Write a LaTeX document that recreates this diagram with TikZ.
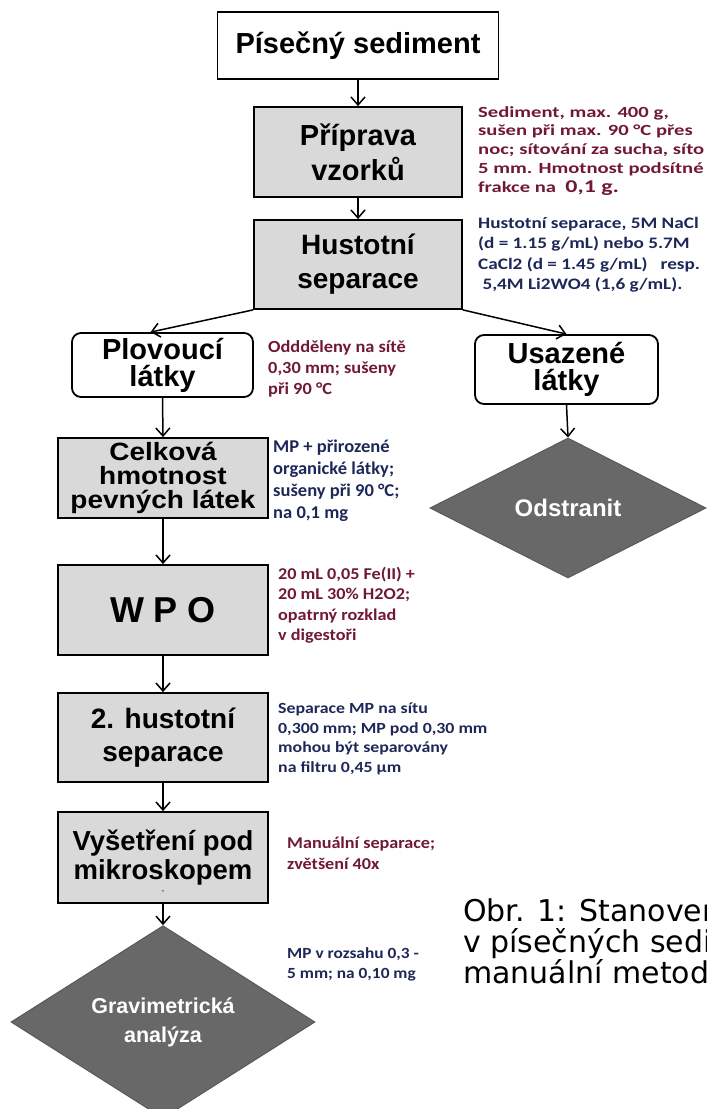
\documentclass[tikz,border=0pt]{standalone}
\usepackage{fontspec}
\setmainfont{Liberation Sans}
\newfontfamily\notefont{Carlito}
\newfontfamily\capfont{DejaVu Sans}
\usepackage{tikz}
\usetikzlibrary{arrows.meta, positioning, shapes.geometric}
\definecolor{vinova}{RGB}{112,24,52}
\definecolor{tmavomodra}{RGB}{30,40,88}
\definecolor{svetlesede}{RGB}{217,217,217}
\definecolor{tmavesede}{RGB}{104,104,104}
\newcommand{\hlavni}[2]{\bfseries\fontsize{#1}{#2}\selectfont}
\newcommand{\pozn}[3]{\notefont\addfontfeatures{FakeStretch=#1}\bfseries\fontsize{#2}{#3}\selectfont}

\begin{document}
\begin{tikzpicture}[x=1pt, y=-1pt,
    krabice/.style={draw, line width=1.8pt, fill=svetlesede, inner sep=0pt, align=center},
    oval/.style={draw, line width=1.8pt, fill=white, rounded corners=9pt, inner sep=0pt, align=center},
    kosoctverec/.style={diamond, draw=black!65, line width=1pt, fill=tmavesede, inner sep=0pt, align=center, text=white},
    sipka/.style={line width=1.5pt, -{Straight Barb[length=8pt,width=14pt]}},
    poznamka/.style={anchor=north west, inner sep=0pt, align=left}]

    \useasboundingbox (0,0) rectangle (707,1109);
    \clip (0,0) rectangle (707,1109);

    % horni cast
    \node[krabice, fill=white, minimum width=281pt, minimum height=67pt, font=\hlavni{29}{35}] (sed) at (358,45.5) {Písečný sediment};
    \node[krabice, minimum width=208pt, minimum height=90pt, font=\hlavni{29}{35}] (prip) at (358,152) {Příprava\\vzorků};
    \node[krabice, minimum width=208pt, minimum height=89pt, font=\hlavni{28}{34}] (hust) at (358,264.5) {Hustotní\\separace};
    \node[oval, minimum width=181pt, minimum height=64pt, font=\hlavni{29}{27}] (plov) at (162.5,365) {Plovoucí\\látky};
    \node[oval, minimum width=183pt, minimum height=69pt, font=\hlavni{29}{27}] (usaz) at (566.5,369.5) {Usazené\\látky};
    \node[kosoctverec, minimum width=276pt, minimum height=140pt, font=\hlavni{24}{28}] (odst) at (568,508) {Odstranit};

    \draw[sipka] (sed.south) -- (prip.north);
    \draw[sipka] (prip.south) -- (hust.north);
    \draw[sipka] (hust.south west) -- ([xshift=-12pt]plov.north);
    \draw[sipka] (hust.south east) -- (usaz.north);
    \draw[sipka] (usaz.south) -- (odst.north);

    % levy sloupec
    \node[krabice, minimum width=210pt, minimum height=80pt, font={\addfontfeatures{FakeStretch=1.12}\hlavni{25}{24}}] (celk) at (163,478) {Celková\\hmotnost\\pevných látek};
    \node[krabice, minimum width=210pt, minimum height=90pt, font=\hlavni{36}{40}] (wpo) at (163,610) {W P O};
    \node[krabice, minimum width=210pt, minimum height=89pt, font=\hlavni{28}{33}] (hust2) at (163,737.5) {2. hustotní\\separace};
    \node[krabice, minimum width=210pt, minimum height=91pt, font=\hlavni{27.5}{29}] (vys) at (163,857.5) {Vyšetření pod\\mikroskopem};
    \node[font=\fontsize{8}{8}\selectfont, inner sep=0pt] (pomlcka) at (163,892) {-};
    \node[kosoctverec, minimum width=304pt, minimum height=180pt, font=\hlavni{21.5}{29}] (grav) at (163,1022) {Gravimetrická\\analýza};

    \draw[sipka] (plov.south) -- (celk.north);
    \draw[sipka] (celk.south) -- (wpo.north);
    \draw[sipka] (wpo.south) -- (hust2.north);
    \draw[sipka] (hust2.south) -- (vys.north);
    \draw[sipka] (vys.south) -- (grav.north);

    % poznamky
    \node[poznamka, text=vinova, font=\pozn{1.33}{15.5}{18.8}] (p1) at (478,106) {Sediment, max. 400 g,\\sušen při max. 90 °C přes\\noc; sítování za sucha, síto\\5 mm. Hmotnost podsítné\\frakce na \ {\fontsize{18}{18.8}\selectfont 0,1 g.}};
    \node[poznamka, text=tmavomodra, font=\pozn{1.2}{16}{20.5}] (p2) at (478,217) {Hustotní separace, 5M NaCl\\(d = 1.15 g/mL) nebo 5.7M\\CaCl2 (d = 1.45 g/mL) \ \ resp.\\\ 5,4M Li2WO4 (1,6 g/mL).};
    \node[poznamka, text=vinova, font=\pozn{1.08}{17}{21}] (p3) at (268,340) {Oddděleny na sítě\\0,30 mm; sušeny\\při 90 °C};
    \node[poznamka, text=tmavomodra, font=\pozn{1.03}{18}{22}] (p4) at (273,440) {MP + přirozené\\organické látky;\\sušeny při 90 °C;\\na 0,1 mg};
    \node[poznamka, text=vinova, font=\pozn{1.1}{16.5}{20.5}] (p5) at (278,567) {20 mL 0,05 Fe(II) +\\20 mL 30\% H2O2;\\opatrný rozklad\\v digestoři};
    \node[poznamka, text=tmavomodra, font=\pozn{1.15}{15.5}{19.5}] (p6) at (278,703) {Separace MP na sítu\\0,300 mm; MP pod 0,30 mm\\mohou být separovány\\na filtru 0,45 µm};
    \node[poznamka, text=vinova, font=\pozn{1.1}{16.5}{20.5}] (p7) at (287,837) {Manuální separace;\\zvětšení 40x};
    \node[poznamka, text=tmavomodra, font=\pozn{1.12}{15.5}{20}] (p8) at (287,947) {MP v rozsahu 0,3 -\\5 mm; na 0,10 mg};

    % popisek obrazku
    \node[poznamka, font=\capfont\fontsize{30}{31}\selectfont] (popisek) at (463,896) {Obr. 1: Stanovení mikroplastů\\v písečných sedimentech\\manuální metodou};
\end{tikzpicture}
\end{document}
